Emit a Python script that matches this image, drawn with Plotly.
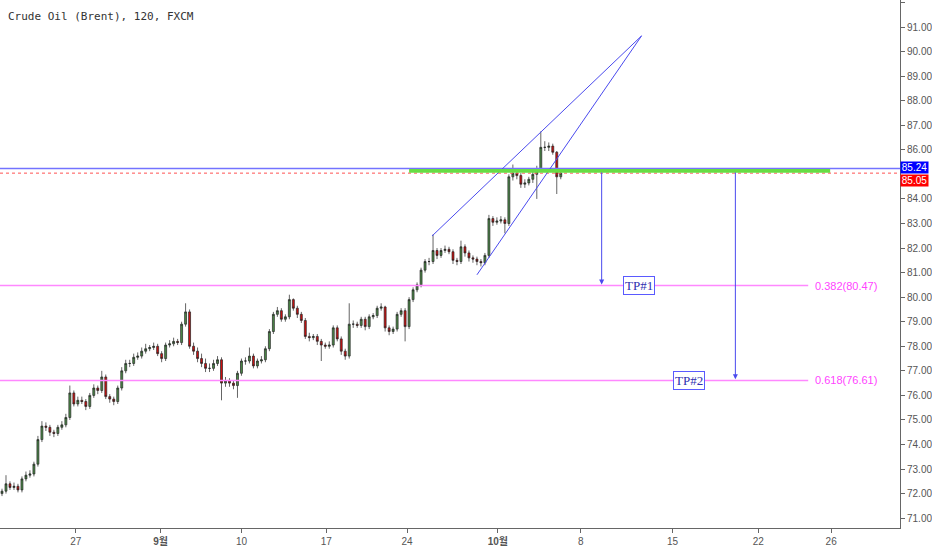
import plotly.graph_objects as go

# 120-min Brent candles, one slot per candle
bars = list(range(141))

opens = [72.00, 72.10, 72.40, 72.25, 72.30, 72.15, 72.60, 72.75, 72.80, 73.20,
         74.20, 74.75, 74.70, 74.50, 74.45, 74.70, 74.80, 75.10, 76.10, 75.65,
         75.80, 75.75, 75.55, 76.00, 76.30, 76.20, 76.75, 75.95, 75.85, 75.75,
         76.30, 77.00, 77.30, 77.30, 77.55, 77.60, 77.80, 77.90, 77.95, 78.00,
         77.70, 77.50, 78.05, 78.10, 78.20, 78.15, 78.90, 79.40, 78.00, 77.80,
         77.50, 77.30, 77.10, 77.10, 77.30, 77.45, 76.50, 76.60, 76.50, 76.40,
         76.90, 77.40, 77.40, 77.60, 77.20, 77.40, 77.45, 77.90, 78.60, 79.30,
         79.45, 79.10, 79.20, 79.90, 79.55, 79.30, 79.05, 78.40, 78.35, 78.40,
         78.20, 78.05, 78.00, 78.05, 78.75, 78.30, 77.80, 77.60, 78.90, 78.90,
         78.85, 79.10, 78.80, 79.20, 79.25, 79.55, 79.60, 78.75, 78.60, 78.70,
         79.30, 79.45, 78.80, 79.90, 80.30, 80.50, 81.10, 81.45, 81.45, 81.90,
         81.70, 81.90, 81.95, 81.85, 81.50, 81.45, 82.05, 81.80, 81.60, 81.55,
         81.45, 81.40, 81.70, 83.20, 83.05, 83.10, 83.15, 83.00, 84.90, 85.05,
         84.95, 84.60, 84.65, 84.80, 85.00, 85.20, 86.10, 86.10, 86.15, 85.90,
         84.90]

highs = [72.20, 72.75, 72.50, 72.45, 72.40, 72.70, 72.90, 72.95, 73.30, 74.35,
         74.95, 74.90, 74.80, 74.60, 74.80, 74.95, 75.25, 76.40, 76.20, 75.95,
         75.95, 75.85, 76.10, 76.45, 76.40, 77.00, 76.85, 76.05, 75.95, 76.40,
         77.15, 77.45, 77.45, 77.70, 77.75, 77.95, 78.10, 78.05, 78.15, 78.10,
         77.80, 78.15, 78.25, 78.35, 78.30, 79.00, 79.75, 79.50, 78.15, 77.95,
         77.70, 77.50, 77.30, 77.45, 77.60, 77.55, 76.75, 76.70, 76.60, 77.00,
         77.50, 77.55, 77.95, 77.70, 77.50, 77.60, 78.00, 78.70, 79.40, 79.60,
         79.55, 79.30, 80.10, 79.95, 79.65, 79.40, 79.15, 78.55, 78.50, 78.50,
         78.30, 78.15, 78.20, 78.85, 78.85, 78.40, 77.90, 79.75, 79.05, 79.00,
         79.20, 79.20, 79.30, 79.35, 79.65, 79.75, 79.65, 78.85, 78.80, 79.40,
         79.55, 79.55, 80.00, 80.40, 80.60, 81.20, 81.55, 81.60, 82.55, 82.00,
         82.00, 82.10, 82.05, 81.95, 81.60, 82.30, 82.15, 81.90, 81.70, 81.65,
         81.55, 81.80, 83.35, 83.30, 83.25, 83.30, 83.25, 85.00, 85.40, 85.15,
         85.05, 84.80, 84.90, 85.10, 85.35, 86.75, 86.35, 86.30, 86.25, 85.95,
         85.15]

lows = [71.90, 72.00, 72.15, 72.15, 72.05, 72.05, 72.50, 72.65, 72.70, 73.10,
        74.10, 74.55, 74.35, 74.30, 74.35, 74.60, 74.70, 75.00, 75.55, 75.55,
        75.65, 75.40, 75.45, 75.90, 76.05, 76.10, 75.85, 75.70, 75.60, 75.65,
        76.20, 76.90, 77.15, 77.20, 77.45, 77.50, 77.70, 77.80, 77.85, 77.60,
        77.35, 77.40, 77.95, 78.00, 78.05, 78.05, 78.80, 77.90, 77.65, 77.35,
        77.15, 76.95, 76.95, 77.00, 77.20, 75.80, 76.35, 76.35, 76.25, 75.90,
        76.80, 77.25, 77.30, 77.10, 77.10, 77.30, 77.35, 77.80, 78.50, 79.20,
        79.00, 79.00, 79.10, 79.45, 79.15, 78.95, 78.30, 78.20, 78.25, 78.05,
        77.40, 77.90, 77.90, 77.95, 78.20, 77.65, 77.45, 77.50, 78.75, 78.75,
        78.75, 78.65, 78.70, 79.10, 79.15, 79.45, 78.60, 78.45, 78.50, 78.60,
        79.20, 78.20, 78.70, 79.80, 80.20, 80.40, 81.00, 81.30, 81.35, 81.55,
        81.60, 81.80, 81.75, 81.35, 81.30, 81.35, 81.65, 81.45, 81.40, 81.30,
        81.25, 81.30, 81.60, 82.90, 82.95, 83.00, 82.60, 82.90, 84.75, 84.80,
        84.45, 84.45, 84.55, 84.65, 84.00, 85.10, 85.95, 85.95, 85.80, 84.20,
        84.80]

closes = [72.10, 72.40, 72.25, 72.30, 72.15, 72.60, 72.75, 72.80, 73.20, 74.20,
          74.75, 74.70, 74.50, 74.45, 74.70, 74.80, 75.10, 76.10, 75.65, 75.80,
          75.75, 75.55, 76.00, 76.30, 76.20, 76.75, 75.95, 75.85, 75.75, 76.30,
          77.00, 77.30, 77.30, 77.55, 77.60, 77.80, 77.90, 77.95, 78.00, 77.70,
          77.50, 78.05, 78.10, 78.20, 78.15, 78.90, 79.40, 78.00, 77.80, 77.50,
          77.30, 77.10, 77.10, 77.30, 77.45, 76.50, 76.60, 76.50, 76.40, 76.90,
          77.40, 77.40, 77.60, 77.20, 77.40, 77.45, 77.90, 78.60, 79.30, 79.45,
          79.10, 79.20, 79.90, 79.55, 79.30, 79.05, 78.40, 78.35, 78.40, 78.20,
          78.05, 78.00, 78.05, 78.75, 78.30, 77.80, 77.60, 78.90, 78.90, 78.85,
          79.10, 78.80, 79.20, 79.25, 79.55, 79.60, 78.75, 78.60, 78.70, 79.30,
          79.45, 78.80, 79.90, 80.30, 80.50, 81.10, 81.45, 81.45, 81.90, 81.70,
          81.90, 81.95, 81.85, 81.50, 81.45, 82.05, 81.80, 81.60, 81.55, 81.45,
          81.40, 81.70, 83.20, 83.05, 83.10, 83.15, 83.00, 84.90, 85.05, 84.95,
          84.60, 84.65, 84.80, 85.00, 85.20, 86.10, 86.10, 86.15, 85.90, 84.90,
          85.05]

# x axis labels (bar slot where each day starts)
tick_pos = [18.5, 39.75, 60, 81.25, 101.5, 124.25, 145, 168, 189.5, 207.75]
tick_txt = ["27", "<b>9월</b>", "10", "17", "24", "<b>10월</b>", "8", "15", "22", "26"]
# 85.00 is hidden behind the price tags in the original
price_ticks = [71, 72, 73, 74, 75, 76, 77, 78, 79, 80, 81, 82, 83, 84, 86, 87, 88, 89, 90, 91, 92]

# drawings
level_blue = 85.24
last_price = 85.05
zone_band = [85.07, 85.22]
zone_span = [102, 207.5]
fib_levels = [0.382, 0.618]
fib_prices = [80.47, 76.61]
fib_line_end = 202
wedge_upper = [(107.75, 82.49), (160.25, 90.64)]
wedge_lower = [(119.0, 80.91), (160.25, 90.64)]
arrow_x = [150.25, 183.75]
arrow_from = 85.14
tp_x = [159.5, 172.25]
tp_names = ["TP#1", "TP#2"]

fig = go.Figure(go.Candlestick(
    x=bars, open=opens, high=highs, low=lows, close=closes,
    increasing=dict(fillcolor="#4c8a48", line=dict(color="#222222", width=0.7)),
    decreasing=dict(fillcolor="#d01010", line=dict(color="#222222", width=0.7)),
    whiskerwidth=0, showlegend=False, hoverinfo="skip"))

shapes = []
# horizontal reference lines
shapes.append(dict(type="line", xref="paper", x0=0, x1=1, y0=level_blue, y1=level_blue,
                   line=dict(color="#7373ff", width=1.5)))
shapes.append(dict(type="line", xref="paper", x0=0, x1=1, y0=last_price, y1=last_price,
                   line=dict(color="#ff5050", width=1, dash="dot")))
for p in fib_prices:
    shapes.append(dict(type="line", x0=-0.5, x1=fib_line_end, y0=p, y1=p,
                       line=dict(color="#ff88ff", width=1.5)))
# rising wedge
for seg in (wedge_upper, wedge_lower):
    shapes.append(dict(type="line", x0=seg[0][0], y0=seg[0][1], x1=seg[1][0], y1=seg[1][1],
                       line=dict(color="#4a4aee", width=1)))
# green resistance zone on top
shapes.append(dict(type="rect", x0=zone_span[0], x1=zone_span[1],
                   y0=zone_band[0], y1=zone_band[1],
                   fillcolor="#66dd44", line=dict(width=0), layer="above"))

ann = []
ann.append(dict(xref="paper", yref="paper", x=0, y=1, xanchor="left", yanchor="top",
                xshift=6, yshift=-8, showarrow=False,
                text="Crude Oil (Brent), 120, FXCM",
                font=dict(family="DejaVu Sans Mono", size=11, color="#333333")))
for ax_, p in zip(arrow_x, fib_prices):
    ann.append(dict(x=ax_, y=p + 0.05, ax=ax_, ay=arrow_from, xref="x", yref="y",
                    axref="x", ayref="y", text="", showarrow=True, arrowhead=2,
                    arrowsize=1, arrowwidth=1, arrowcolor="#4a4aee"))
for tx, p, name in zip(tp_x, fib_prices, tp_names):
    ann.append(dict(x=tx, y=p, text=name, showarrow=False, bgcolor="white",
                    bordercolor="#5a5aff", borderwidth=1, borderpad=1,
                    font=dict(family="Liberation Serif", size=13, color="#3030b0")))
for lv, p in zip(fib_levels, fib_prices):
    ann.append(dict(x=fib_line_end + 1.2, y=p, xanchor="left", showarrow=False,
                    text=f"{lv}({p:.2f})",
                    font=dict(family="Liberation Sans", size=11, color="#ff44ff")))
# price tags on the right scale
ann.append(dict(xref="paper", x=1, y=level_blue, yshift=1, xanchor="left", showarrow=False,
                text=f"{level_blue:.2f}", bgcolor="#0000ff", width=27, height=11, borderpad=0,
                font=dict(family="Liberation Sans", size=10, color="white")))
ann.append(dict(xref="paper", x=1, y=last_price, yshift=-7.5, xanchor="left", showarrow=False,
                text=f"{last_price:.2f}", bgcolor="#ff0000", width=27, height=11, borderpad=0,
                font=dict(family="Liberation Sans", size=10, color="white")))

fig.update_layout(
    width=932, height=550,
    margin=dict(l=0, r=30, t=0, b=22),
    paper_bgcolor="white", plot_bgcolor="white",
    shapes=shapes, annotations=ann,
    font=dict(family="Liberation Sans, Noto Sans CJK KR", size=10, color="#555555"),
    xaxis=dict(range=[-0.5, 225], rangeslider=dict(visible=False), showgrid=False,
               zeroline=False, showline=True, linecolor="#666666", linewidth=1,
               tickmode="array", tickvals=tick_pos, ticktext=tick_txt,
               ticks="outside", ticklen=4, tickcolor="#666666",
               tickfont=dict(family="Liberation Sans, Noto Sans CJK KR", size=10, color="#555555")),
    yaxis=dict(side="right", range=[70.6, 92.1], showgrid=False, zeroline=False,
               showline=True, linecolor="#666666", linewidth=1,
               tickmode="array", tickvals=price_ticks,
               ticktext=[f"{v:.2f}" for v in price_ticks],
               ticks="outside", ticklen=4, tickcolor="#666666",
               tickfont=dict(family="Liberation Sans", size=10, color="#555555")),
)

# page body has a default 8px margin; drop it so the chart fills the window
fig.write_html("out.html", config={"displayModeBar": False},
               post_script="document.body.style.margin='0px';")
